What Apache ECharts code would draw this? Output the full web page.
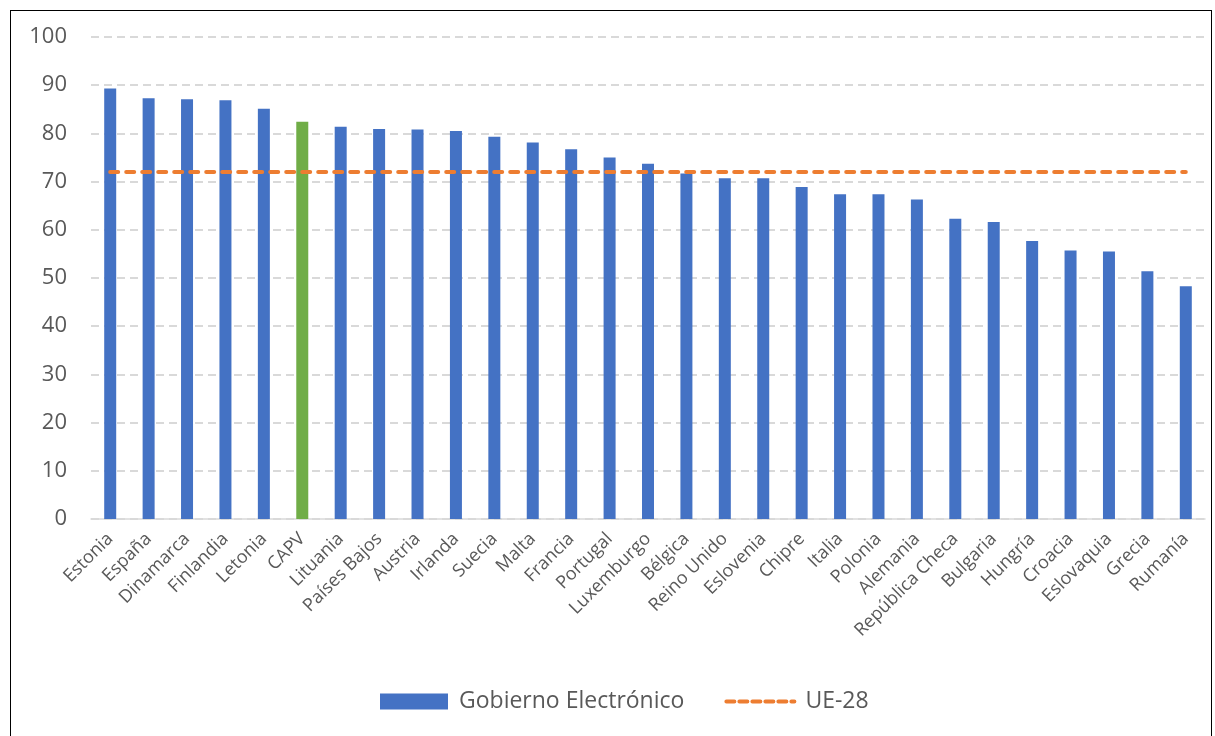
<!DOCTYPE html>
<html>
<head>
<meta charset="utf-8">
<script src="https://cdn.jsdelivr.net/npm/echarts@6/dist/echarts.min.js"></script>
<style>
    html, body { margin: 0; padding: 0; background: #fff; overflow: hidden; }
    .frame {
        position: absolute;
        left: 10px;
        top: 10px;
        width: 1202px;
        height: 740px;
        border: 1.5px solid #000;
        box-sizing: border-box;
    }
    #chart_gobierno { position: absolute; left: 0; top: 0; width: 1215px; height: 736px; }
</style>
</head>
<body>
<div class="frame"></div>
<div id="chart_gobierno"></div>
<script>
    // paises ordenados de mayor a menor
    var paises = ['Estonia', 'España', 'Dinamarca', 'Finlandia', 'Letonia', 'CAPV', 'Lituania', 'Países Bajos',
        'Austria', 'Irlanda', 'Suecia', 'Malta', 'Francia', 'Portugal', 'Luxemburgo', 'Bélgica', 'Reino Unido',
        'Eslovenia', 'Chipre', 'Italia', 'Polonia', 'Alemania', 'República Checa', 'Bulgaria', 'Hungría',
        'Croacia', 'Eslovaquia', 'Grecia', 'Rumanía'];
    var gobiernoElectronico = [89.3, 87.3, 87.1, 86.9, 85.1, 82.4, 81.4, 80.9, 80.8, 80.5, 79.3, 78.1, 76.7,
        75.0, 73.7, 71.7, 70.7, 70.7, 68.9, 67.4, 67.4, 66.3, 62.3, 61.6, 57.7, 55.7, 55.5, 51.4, 48.3];
    var mediaUE = 72.0;
    var destacado = 'CAPV';

    var azul = '#4472C4';
    var verde = '#70AD47';
    var naranja = '#ED7D31';
    var gris = '#595959';

    var barData = paises.map(function (p, i) {
        return {
            value: gobiernoElectronico[i],
            itemStyle: { color: p === destacado ? verde : azul }
        };
    });
    var lineData = paises.map(function () { return mediaUE; });

    var chart = echarts.init(document.getElementById('chart_gobierno'));
    var option = {
        animation: false,
        textStyle: { fontFamily: 'Open Sans' },
        grid: {
            left: 91,
            right: 10,
            top: 37,
            bottom: 217
        },
        legend: {
            bottom: 18,
            left: 375,
            itemGap: 40,
            itemWidth: 68,
            itemHeight: 16,
            textStyle: {
                fontSize: 23,
                color: gris,
                fontFamily: 'Open Sans',
                padding: [0, 0, 0, 6]
            },
            data: [
                { name: 'Gobierno Electrónico', icon: 'rect', itemStyle: { color: azul } },
                {
                    name: 'UE-28',
                    itemStyle: { color: 'rgba(0,0,0,0)', borderWidth: 0 },
                    lineStyle: { color: naranja, width: 4, type: [8, 5], cap: 'round' }
                }
            ]
        },
        xAxis: {
            type: 'category',
            data: paises,
            axisLine: { lineStyle: { color: '#d9d9d9', width: 1.5 } },
            axisTick: { show: false },
            axisLabel: {
                rotate: 45,
                interval: 0,
                fontSize: 18,
                color: gris,
                margin: 17
            }
        },
        yAxis: {
            type: 'value',
            min: 0,
            max: 100,
            interval: 10,
            axisLine: { show: false },
            axisTick: { show: false },
            axisLabel: {
                fontSize: 22,
                color: gris,
                margin: 24
            },
            splitLine: {
                lineStyle: { color: '#d9d9d9', width: 1.8, type: [8, 5] }
            }
        },
        series: [
            {
                name: 'Gobierno Electrónico',
                type: 'bar',
                barWidth: 12,
                itemStyle: { color: azul },
                data: barData
            },
            {
                name: 'UE-28',
                type: 'line',
                symbol: 'none',
                itemStyle: { color: naranja },
                lineStyle: { color: naranja, width: 4, type: [8, 8], cap: 'round' },
                z: 5,
                data: lineData
            }
        ]
    };
    chart.setOption(option);

    window.addEventListener('resize', function () {
        chart.resize();
    });
</script>
</body>
</html>
